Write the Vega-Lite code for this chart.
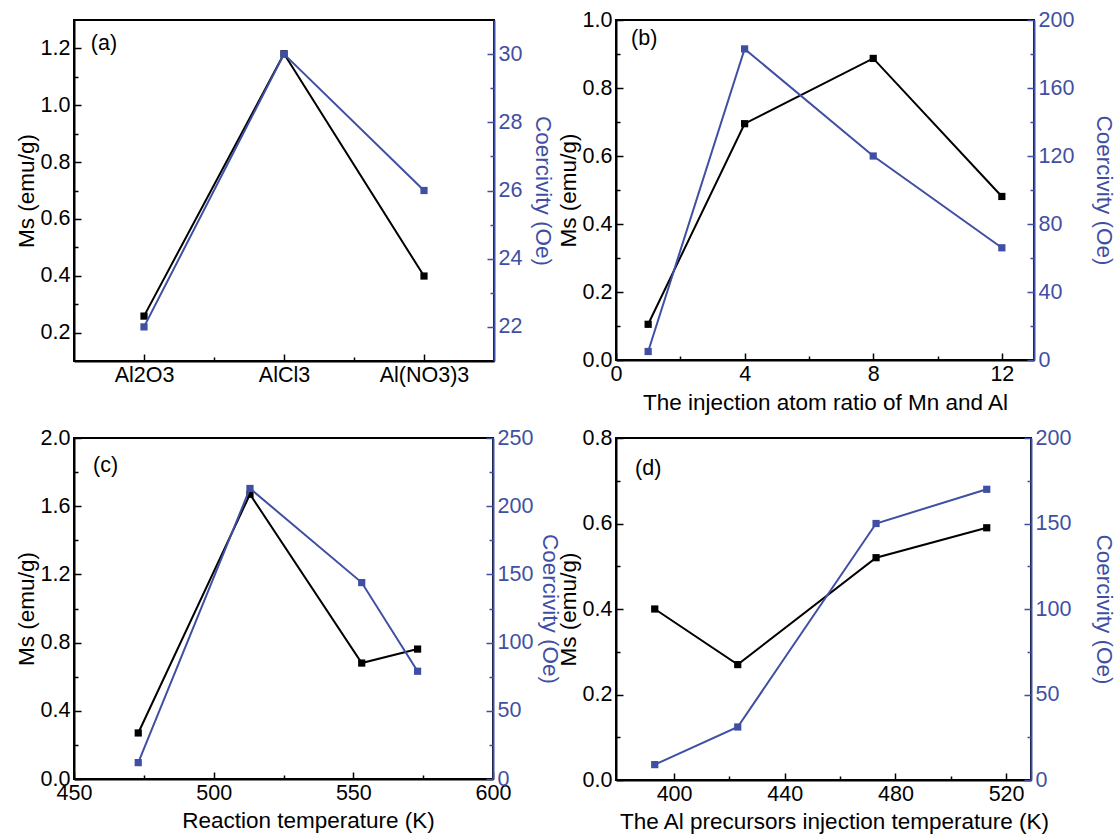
{
  "$schema": "https://vega.github.io/schema/vega-lite/v6.json",
  "padding": {"left": 14, "top": 8, "right": 5, "bottom": 2},
  "columns": 2,
  "spacing": {"row": 11, "column": -6},
  "concat": [
    {
      "width": 420, "height": 341,
      "data": {"values": [
        {"precursor": "Al2O3", "order": 1, "Ms": 0.258, "Coercivity": 22.0},
        {"precursor": "AlCl3", "order": 2, "Ms": 1.181, "Coercivity": 30.0},
        {"precursor": "Al(NO3)3", "order": 3, "Ms": 0.399, "Coercivity": 26.0}
      ]},
      "encoding": {
        "x": {"field": "order", "type": "quantitative", "scale": {"domain": [0.5, 3.5], "nice": false, "zero": false},
          "axis": {"title": null, "values": [1, 1.5, 2, 2.5, 3], "labelPadding": 10,
            "labelExpr": "datum.value==1?'Al2O3':datum.value==2?'AlCl3':datum.value==3?'Al(NO3)3':''",
            "tickSize": {"condition": {"test": "datum.value % 1 == 0", "value": -7}, "value": -4}}}
      },
      "layer": [
        {
          "encoding": {"y": {"field": "Ms", "type": "quantitative", "scale": {"domain": [0.1, 1.3], "nice": false, "zero": false},
            "axis": {"title": "Ms (emu/g)", "values": [0.2,0.3,0.4,0.5,0.6,0.7,0.8,0.9,1.0,1.1,1.2], "format": ".1f",
              "labelExpr": "round(datum.value*10)%2==0 ? datum.label : ''",
              "tickSize": {"condition": {"test": "round(datum.value*10)%2==0", "value": -7}, "value": -4}}}},
          "layer": [
            {"mark": {"type": "line", "color": "black", "strokeWidth": 2}},
            {"mark": {"type": "point", "shape": "square", "filled": true, "opacity": 1, "color": "black", "size": 52}},
            {"mark": {"type": "text", "text": "(a)", "align": "left", "baseline": "middle", "fontSize": 21.5, "fontWeight": "normal", "font": "Liberation Sans", "color": "black"},
              "encoding": {"x": {"datum": 0.62, "type": "quantitative"}, "y": {"datum": 1.216, "type": "quantitative"},
                "opacity": {"condition": {"test": "datum.order == 1", "value": 1}, "value": 0}}}
          ]
        },
        {
          "encoding": {"y": {"field": "Coercivity", "type": "quantitative", "scale": {"domain": [21, 31], "nice": false, "zero": false},
            "axis": {"orient": "right", "title": "Coercivity (Oe)", "values": [22,23,24,25,26,27,28,29,30], "format": "d",
              "labelExpr": "datum.value%2==0 ? datum.label : ''",
              "tickSize": {"condition": {"test": "datum.value%2==0", "value": -7}, "value": -4},
              "domainColor": "#3f4fa3", "tickColor": "#3f4fa3", "labelColor": "#3f4fa3", "titleColor": "#3f4fa3", "titlePadding": 9}}},
          "layer": [
            {"mark": {"type": "line", "color": "#3f4fa3", "strokeWidth": 2}},
            {"mark": {"type": "point", "shape": "square", "filled": true, "opacity": 1, "color": "#3f4fa3", "size": 52}}
          ]
        }
      ],
      "resolve": {"scale": {"y": "independent"}}
    },
    {
      "width": 418, "height": 340,
      "data": {"values": [
        {"ratio": 1, "Ms": 0.105, "Coercivity": 5},
        {"ratio": 4, "Ms": 0.695, "Coercivity": 183},
        {"ratio": 8, "Ms": 0.887, "Coercivity": 120},
        {"ratio": 12, "Ms": 0.481, "Coercivity": 66}
      ]},
      "encoding": {
        "x": {"field": "ratio", "type": "quantitative", "scale": {"domain": [0, 13], "nice": false, "zero": false},
          "axis": {"title": "The injection atom ratio of Mn and Al", "values": [0,2,4,6,8,10,12], "format": "d", "labelPadding": 10, "titlePadding": 4,
            "labelExpr": "datum.value%4==0 ? datum.label : ''",
            "tickSize": {"condition": {"test": "datum.value%4==0", "value": -7}, "value": -4}}}
      },
      "layer": [
        {
          "encoding": {"y": {"field": "Ms", "type": "quantitative", "scale": {"domain": [0, 1], "nice": false},
            "axis": {"title": "Ms (emu/g)", "values": [0,0.1,0.2,0.3,0.4,0.5,0.6,0.7,0.8,0.9,1.0], "format": ".1f",
              "labelExpr": "round(datum.value*10)%2==0 ? datum.label : ''",
              "tickSize": {"condition": {"test": "round(datum.value*10)%2==0", "value": -7}, "value": -4}}}},
          "layer": [
            {"mark": {"type": "line", "color": "black", "strokeWidth": 2}},
            {"mark": {"type": "point", "shape": "square", "filled": true, "opacity": 1, "color": "black", "size": 52}},
            {"mark": {"type": "text", "text": "(b)", "align": "left", "baseline": "middle", "fontSize": 21.5, "fontWeight": "normal", "font": "Liberation Sans", "color": "black"},
              "encoding": {"x": {"datum": 0.47, "type": "quantitative"}, "y": {"datum": 0.944, "type": "quantitative"},
                "opacity": {"condition": {"test": "datum.ratio == 1", "value": 1}, "value": 0}}}
          ]
        },
        {
          "encoding": {"y": {"field": "Coercivity", "type": "quantitative", "scale": {"domain": [0, 200], "nice": false},
            "axis": {"orient": "right", "title": "Coercivity (Oe)", "values": [0,20,40,60,80,100,120,140,160,180,200], "format": "d",
              "labelExpr": "datum.value%40==0 ? datum.label : ''",
              "tickSize": {"condition": {"test": "datum.value%40==0", "value": -7}, "value": -4},
              "domainColor": "#3f4fa3", "tickColor": "#3f4fa3", "labelColor": "#3f4fa3", "titleColor": "#3f4fa3", "titlePadding": 18}}},
          "layer": [
            {"mark": {"type": "line", "color": "#3f4fa3", "strokeWidth": 2}},
            {"mark": {"type": "point", "shape": "square", "filled": true, "opacity": 1, "color": "#3f4fa3", "size": 52}}
          ]
        }
      ],
      "resolve": {"scale": {"y": "independent"}}
    },
    {
      "width": 419, "height": 341,
      "data": {"values": [
        {"temperature": 473, "Ms": 0.27, "Coercivity": 12},
        {"temperature": 513, "Ms": 1.67, "Coercivity": 213},
        {"temperature": 553, "Ms": 0.68, "Coercivity": 144},
        {"temperature": 573, "Ms": 0.762, "Coercivity": 79}
      ]},
      "encoding": {
        "x": {"field": "temperature", "type": "quantitative", "scale": {"domain": [450, 600], "nice": false, "zero": false},
          "axis": {"title": "Reaction temperature (K)", "values": [450,475,500,525,550,575,600], "format": "d", "labelPadding": 10, "titlePadding": 3, "titleX": 234,
            "labelExpr": "datum.value%50==0 ? datum.label : ''",
            "tickSize": {"condition": {"test": "datum.value%50==0", "value": -7}, "value": -4}}}
      },
      "layer": [
        {
          "encoding": {"y": {"field": "Ms", "type": "quantitative", "scale": {"domain": [0, 2], "nice": false},
            "axis": {"title": "Ms (emu/g)", "values": [0,0.2,0.4,0.6,0.8,1.0,1.2,1.4,1.6,1.8,2.0], "format": ".1f",
              "labelExpr": "round(datum.value*10)%4==0 ? datum.label : ''",
              "tickSize": {"condition": {"test": "round(datum.value*10)%4==0", "value": -7}, "value": -4}}}},
          "layer": [
            {"mark": {"type": "line", "color": "black", "strokeWidth": 2}},
            {"mark": {"type": "point", "shape": "square", "filled": true, "opacity": 1, "color": "black", "size": 52}},
            {"mark": {"type": "text", "text": "(c)", "align": "left", "baseline": "middle", "fontSize": 21.5, "fontWeight": "normal", "font": "Liberation Sans", "color": "black"},
              "encoding": {"x": {"datum": 456.8, "type": "quantitative"}, "y": {"datum": 1.836, "type": "quantitative"},
                "opacity": {"condition": {"test": "datum.temperature == 473", "value": 1}, "value": 0}}}
          ]
        },
        {
          "encoding": {"y": {"field": "Coercivity", "type": "quantitative", "scale": {"domain": [0, 250], "nice": false},
            "axis": {"orient": "right", "title": "Coercivity (Oe)", "values": [0,25,50,75,100,125,150,175,200,225,250], "format": "d",
              "labelExpr": "datum.value%50==0 ? datum.label : ''",
              "tickSize": {"condition": {"test": "datum.value%50==0", "value": -7}, "value": -4},
              "domainColor": "#3f4fa3", "tickColor": "#3f4fa3", "labelColor": "#3f4fa3", "titleColor": "#3f4fa3", "titlePadding": 5}}},
          "layer": [
            {"mark": {"type": "line", "color": "#3f4fa3", "strokeWidth": 2}},
            {"mark": {"type": "point", "shape": "square", "filled": true, "opacity": 1, "color": "#3f4fa3", "size": 52}}
          ]
        }
      ],
      "resolve": {"scale": {"y": "independent"}}
    },
    {
      "width": 415, "height": 342,
      "data": {"values": [
        {"temperature": 393, "Ms": 0.40, "Coercivity": 9},
        {"temperature": 423, "Ms": 0.27, "Coercivity": 31},
        {"temperature": 473, "Ms": 0.52, "Coercivity": 150},
        {"temperature": 513, "Ms": 0.59, "Coercivity": 170}
      ]},
      "encoding": {
        "x": {"field": "temperature", "type": "quantitative", "scale": {"domain": [379, 529], "nice": false, "zero": false},
          "axis": {"title": "The Al precursors injection temperature (K)", "values": [400,420,440,460,480,500,520], "format": "d", "labelPadding": 10, "titlePadding": 3, "titleX": 218,
            "labelExpr": "datum.value%40==0 ? datum.label : ''",
            "tickSize": {"condition": {"test": "datum.value%40==0", "value": -7}, "value": -4}}}
      },
      "layer": [
        {
          "encoding": {"y": {"field": "Ms", "type": "quantitative", "scale": {"domain": [0, 0.8], "nice": false},
            "axis": {"title": "Ms (emu/g)", "values": [0,0.1,0.2,0.3,0.4,0.5,0.6,0.7,0.8], "format": ".1f",
              "labelExpr": "round(datum.value*10)%2==0 ? datum.label : ''",
              "tickSize": {"condition": {"test": "round(datum.value*10)%2==0", "value": -7}, "value": -4}}}},
          "layer": [
            {"mark": {"type": "line", "color": "black", "strokeWidth": 2}},
            {"mark": {"type": "point", "shape": "square", "filled": true, "opacity": 1, "color": "black", "size": 52}},
            {"mark": {"type": "text", "text": "(d)", "align": "left", "baseline": "middle", "fontSize": 21.5, "fontWeight": "normal", "font": "Liberation Sans", "color": "black"},
              "encoding": {"x": {"datum": 385.9, "type": "quantitative"}, "y": {"datum": 0.727, "type": "quantitative"},
                "opacity": {"condition": {"test": "datum.temperature == 393", "value": 1}, "value": 0}}}
          ]
        },
        {
          "encoding": {"y": {"field": "Coercivity", "type": "quantitative", "scale": {"domain": [0, 200], "nice": false},
            "axis": {"orient": "right", "title": "Coercivity (Oe)", "values": [0,25,50,75,100,125,150,175,200], "format": "d",
              "labelExpr": "datum.value%50==0 ? datum.label : ''",
              "tickSize": {"condition": {"test": "datum.value%50==0", "value": -7}, "value": -4},
              "domainColor": "#3f4fa3", "tickColor": "#3f4fa3", "labelColor": "#3f4fa3", "titleColor": "#3f4fa3", "titlePadding": 21}}},
          "layer": [
            {"mark": {"type": "line", "color": "#3f4fa3", "strokeWidth": 2}},
            {"mark": {"type": "point", "shape": "square", "filled": true, "opacity": 1, "color": "#3f4fa3", "size": 52}}
          ]
        }
      ],
      "resolve": {"scale": {"y": "independent"}}
    }
  ],
  "config": {
    "font": "Liberation Sans",
    "view": {"stroke": "black", "strokeWidth": 2},
    "axis": {"grid": false, "ticks": true, "domainColor": "black", "domainWidth": 2, "tickColor": "black", "tickWidth": 1.5,
      "labelFontSize": 21.5, "titleFontSize": 22.5, "labelFont": "Liberation Sans", "titleFont": "Liberation Sans",
      "titleFontWeight": "normal", "labelColor": "black", "titleColor": "black", "labelFlush": false, "labelOverlap": false,
      "labelPadding": 11, "titlePadding": 2}
  }
}
